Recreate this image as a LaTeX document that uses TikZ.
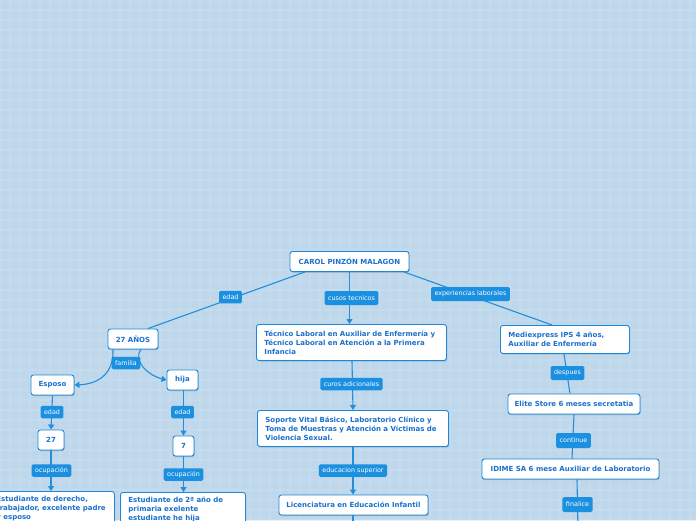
\documentclass[tikz,border=0pt]{standalone}
\usepackage{fontspec}
\setmainfont{DejaVu Sans}
\usetikzlibrary{arrows.meta,shadows}
\definecolor{bgblue}{RGB}{190,215,234}
\definecolor{gridc}{RGB}{203,224,241}
\definecolor{boxline}{RGB}{30,136,216}
\definecolor{boxtext}{RGB}{26,112,204}
\definecolor{lblfill}{RGB}{27,143,224}
\definecolor{conn}{RGB}{36,142,220}
\tikzset{
  box/.style={draw=boxline, fill=white, rounded corners=2.5pt, line width=0.9pt,
    text=boxtext, font=\bfseries\fontsize{7}{9}\selectfont, inner sep=0pt,
    drop shadow={shadow xshift=0.6pt, shadow yshift=-1pt, opacity=0.35, fill=boxline!60!black}},
  onebox/.style={box, minimum height=20pt, align=center},
  multibox/.style={box, anchor=north west, align=left, inner xsep=8pt},
  lbl/.style={fill=lblfill, text=white, rounded corners=1.5pt, inner xsep=3.5pt, inner ysep=0pt,
    minimum height=12.5pt, font=\fontsize{6.4}{7}\selectfont},
  con/.style={draw=conn, line width=1.1pt},
  arr/.style={con, -{Triangle[width=6pt,length=5pt]}},
}
\begin{document}
\begin{tikzpicture}[x=1pt,y=-1pt]
\useasboundingbox (0,0) rectangle (696,520);
\clip (0,0) rectangle (696,520);
\fill[bgblue] (0,0) rectangle (696,520);
\draw[gridc, line width=2pt, opacity=0.5, step=10pt] (0,0) grid (696,520);
% boxes
\node[onebox, minimum width=119pt] (root) at (349.5,261.5) {CAROL PINZÓN MALAGON};
\node[onebox, minimum width=50pt] (edadn) at (133,339) {27 AÑOS};
\node[onebox, minimum width=43pt] (esposo) at (52.5,385) {Esposo};
\node[onebox, minimum width=31pt] (hija) at (182.5,380) {hija};
\node[onebox, minimum width=26pt] (e27) at (51,440) {27};
\node[onebox, minimum width=21pt] (e7) at (183.5,446) {7};
\node[multibox, inner ysep=5pt, text width=110pt] (ocesp) at (-12,491) {Estudiante de derecho,\\trabajador, excelente padre\\y esposo};
\node[multibox, inner ysep=5pt, text width=109pt] (ochija) at (120,492) {Estudiante de 2ª año de\\primaria exelente\\estudiante he hija};
\node[multibox, text width=174pt, minimum height=36pt] (tec) at (256,324) {Técnico Laboral en Auxiliar de Enfermería y\\Técnico Laboral en Atención a la Primera\\Infancia};
\node[multibox, text width=175pt, minimum height=36pt] (sop) at (257,410) {Soporte Vital Básico, Laboratorio Clínico y\\Toma de Muestras y Atención a Víctimas de\\Violencia Sexual.};
\node[onebox, minimum width=149pt] (lic) at (353.5,505) {Licenciatura en Educación Infantil};
\node[multibox, text width=113pt, minimum height=28pt] (medi) at (500,325) {Mediexpress IPS 4 años,\\Auxiliar de Enfermería};
\node[onebox, minimum width=132pt] (elite) at (574,404) {Elite Store 6 meses secretatia};
\node[onebox, minimum width=177pt] (idime) at (570.5,469) {IDIME SA 6 mese Auxiliar de Laboratorio};
\coordinate (licend) at (353,530);
\coordinate (idimeend) at (578,530);
% connectors
\draw[con] (root.south west -| 305,0) -- (edadn.north east -| 148,0);
\draw[arr] (root.south) -- (tec.north -| root.south);
\draw[con] (root.south east -| 404,0) -- (medi.north -| 552,0);
\draw[arr] (edadn.south -| 113,0) .. controls (114,372) and (100,384) .. (esposo.east);
\draw[arr] (edadn.south -| 141,0) .. controls (132,362) and (150,376) .. (hija.west);
\draw[arr] (esposo.south) -- (e27.north);
\draw[arr] (e27.south) -- (ocesp.north -| e27.south);
\draw[arr] (hija.south -| e7.north) -- (e7.north);
\draw[arr] (e7.south) -- (ochija.north -| e7.south);
\draw[arr] (tec.south -| 352,0) -- (sop.north -| 353,0);
\draw[arr] (sop.south -| 353,0) -- (lic.north -| 353,0);
\draw[con] (lic.south -| 353,0) -- (licend);
\draw[con] (medi.south -| 564,0) -- (elite.north -| 570,0);
\draw[con] (elite.south -| 574,0) -- (idime.north -| 572,0);
\draw[con] (idime.south -| 577,0) -- (idimeend);
% labels
\node[lbl] (l1) at (230.5,297) {edad};
\node[lbl, minimum height=14pt] (l2) at (351.5,298) {cusos tecnicos};
\node[lbl, minimum height=14pt] (l3) at (470.5,294) {experiencias laborales};
\node[lbl] (l4) at (126,363) {familia};
\node[lbl] (l5) at (52,412) {edad};
\node[lbl] (l6) at (51.5,470.5) {ocupación};
\node[lbl] (l7) at (182.5,412) {edad};
\node[lbl] (l8) at (183.5,474.5) {ocupación};
\node[lbl] (l9) at (351.5,384) {curos adicionales};
\node[lbl] (l10) at (353,470.5) {educacion superior};
\node[lbl, minimum height=14pt] (l11) at (567.5,373) {despues};
\node[lbl, minimum height=15pt] (l12) at (573.5,440.5) {continue};
\node[lbl, minimum height=15pt] (l13) at (577.5,504.5) {finalice};
\end{tikzpicture}
\end{document}
